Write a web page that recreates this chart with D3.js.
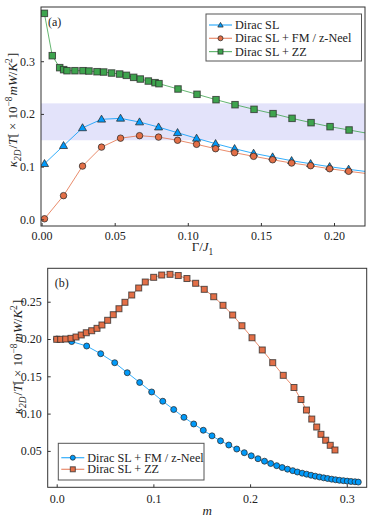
<!DOCTYPE html>
<html>
<head>
<meta charset="utf-8">
<script src="https://cdn.jsdelivr.net/npm/d3@7"></script>
<style>
  body { margin: 0; background: #fff; }
  svg text { font-family: "Liberation Serif", "DejaVu Serif", serif; }
</style>
</head>
<body>
<svg id="fig" width="374" height="522"></svg>
<script>
// ---- panel (a) data: kappa/T vs Gamma/J1 ----
var gammaX = [0.002, 0.015, 0.028, 0.041, 0.054, 0.067, 0.080, 0.093, 0.106, 0.119,
              0.132, 0.145, 0.158, 0.171, 0.184, 0.197, 0.210, 0.223];
var diracSL = [0.1055, 0.1397, 0.1735, 0.1898, 0.1916, 0.1846, 0.1750, 0.1643, 0.1537,
               0.1435, 0.1340, 0.1252, 0.1182, 0.1112, 0.1055, 0.0998, 0.0949, 0.0903];
var diracFM = [0.0010, 0.0449, 0.1010, 0.1370, 0.1540, 0.1587, 0.1560, 0.1500, 0.1423,
               0.1340, 0.1264, 0.1195, 0.1130, 0.1068, 0.1017, 0.0960, 0.0911, 0.0866];
var zzGammaX = [0.0019, 0.0073, 0.0124, 0.0151, 0.0174, 0.0228, 0.0283, 0.0324, 0.0379,
                0.0425, 0.0479, 0.0534, 0.0580, 0.0630, 0.0675, 0.0730, 0.0776, 0.0803,
                0.0933, 0.1063, 0.1193, 0.1323, 0.1453, 0.1583, 0.1713, 0.1843, 0.1973,
                0.2103, 0.2233];
var diracZZ = [0.3909, 0.3105, 0.2878, 0.2840, 0.2820, 0.2820, 0.2820, 0.2814, 0.2801,
               0.2795, 0.2776, 0.2757, 0.2732, 0.2694, 0.2662, 0.2624, 0.2593, 0.2574,
               0.2473, 0.2372, 0.2270, 0.2175, 0.2087, 0.2005, 0.1916, 0.1834, 0.1758,
               0.1695, 0.1630];
var band = [0.15, 0.22];

// ---- panel (b) data: kappa/T vs m ----
var fmM = [0.0000, 0.0155, 0.0310, 0.0455, 0.0600, 0.0730, 0.0858, 0.0982, 0.1097, 0.1210,
           0.1316, 0.1417, 0.1516, 0.1606, 0.1694, 0.1780, 0.1862, 0.1940, 0.2012, 0.2082,
           0.2149, 0.2213, 0.2275, 0.2332, 0.2387, 0.2441, 0.2489, 0.2539, 0.2585, 0.2630,
           0.2674, 0.2718, 0.2761, 0.2802, 0.2844, 0.2884, 0.2924, 0.2965, 0.3005, 0.3044,
           0.3085, 0.3119];
var fmK = [0.2000, 0.1966, 0.1906, 0.1803, 0.1682, 0.1548, 0.1417, 0.1290, 0.1166, 0.1055,
           0.0950, 0.0861, 0.0777, 0.0702, 0.0635, 0.0579, 0.0525, 0.0476, 0.0434, 0.0395,
           0.0362, 0.0331, 0.0302, 0.0277, 0.0255, 0.0235, 0.0217, 0.0201, 0.0188, 0.0174,
           0.0161, 0.0150, 0.0139, 0.0130, 0.0121, 0.0113, 0.0106, 0.0101, 0.0095, 0.0090,
           0.0086, 0.0082];
var zzM = [0.0000, 0.0041, 0.0093, 0.0148, 0.0200, 0.0254, 0.0306, 0.0362, 0.0417, 0.0468,
           0.0527, 0.0585, 0.0644, 0.0706, 0.0776, 0.0848, 0.0916, 0.1003, 0.1086, 0.1172,
           0.1257, 0.1347, 0.1437, 0.1526, 0.1624, 0.1720, 0.1820, 0.1916, 0.2020, 0.2126,
           0.2234, 0.2343, 0.2454, 0.2526, 0.2583, 0.2638, 0.2689, 0.2733, 0.2782, 0.2829,
           0.2878];
var zzK = [0.1996, 0.1996, 0.2000, 0.2009, 0.2027, 0.2054, 0.2084, 0.2111, 0.2143, 0.2188,
           0.2251, 0.2326, 0.2406, 0.2492, 0.2590, 0.2684, 0.2764, 0.2827, 0.2858, 0.2867,
           0.2851, 0.2811, 0.2747, 0.2666, 0.2567, 0.2452, 0.2322, 0.2178, 0.2017, 0.1853,
           0.1683, 0.1513, 0.1350, 0.1189, 0.1048, 0.0927, 0.0820, 0.0722, 0.0643, 0.0575,
           0.0512];

var xTicksA = [0, 0.05, 0.10, 0.15, 0.20];
var yTicksA = [0.0, 0.1, 0.2, 0.3];
var xTicksB = [0.0, 0.1, 0.2, 0.3];
var yTicksB = [0.05, 0.10, 0.15, 0.20, 0.25];

var legendA = ["Dirac SL", "Dirac SL + FM / z-Neel", "Dirac SL + ZZ"];
var legendB = ["Dirac SL + FM / z-Neel", "Dirac SL + ZZ"];

var BLUE = "#009AFA", ORANGE = "#E36F47", GREEN = "#3EA44E";
var FRAME = "#333";

var svg = d3.select("svg#fig");

function zip(xs, ys) {
    return xs.map(function(x, i) { return { x: x, y: ys[i] }; });
}

// text made of upright / italic / sub / sup parts
function richText(sel, parts, size) {
    parts.forEach(function(p) {
        var t = sel.append("tspan").text(p.t);
        if (p.i) t.style("font-style", "italic");
        if (p.s == "sub") {
            t.attr("dy", size * 0.3).style("font-size", size * 0.72 + "px");
            sel.append("tspan").attr("dy", -size * 0.3).text("\u200A");
        } else if (p.s == "sup") {
            t.attr("dy", -size * 0.4).style("font-size", size * 0.72 + "px");
            sel.append("tspan").attr("dy", size * 0.4).text("\u200A");
        }
    });
}

var yLabelParts = [
    { t: "\u03BA", i: true }, { t: "2D", i: true, s: "sub" },
    { t: "/" }, { t: "T", i: true }, { t: "[ \u00D7 10" }, { t: "\u22128", s: "sup" },
    { t: "m", i: true }, { t: "W", i: true }, { t: "/" }, { t: "K", i: true },
    { t: "2", s: "sup" }, { t: "]" }
];

function drawMarker(g, kind, x, y, fill, size) {
    var m;
    if (kind == "circle") {
        m = g.append("circle").attr("cx", x).attr("cy", y).attr("r", size / 2);
    } else if (kind == "square") {
        m = g.append("rect").attr("x", x - size / 2).attr("y", y - size / 2)
            .attr("width", size).attr("height", size);
    } else {
        m = g.append("path")
            .attr("d", d3.symbol().type(d3.symbolTriangle).size(size * size * 0.5)())
            .attr("transform", "translate(" + x + "," + (y + 0.5) + ")");
    }
    m.attr("fill", fill).attr("stroke", "#2a2a2a").attr("stroke-opacity", 0.75)
        .attr("stroke-width", 1);
}

function drawPanel(cfg) {
    var box = cfg.box;
    var w = box.right - box.left, h = box.bottom - box.top;
    var x = d3.scaleLinear().domain(cfg.xDomain).range([0, w]);
    var y = d3.scaleLinear().domain(cfg.yDomain).range([h, 0]);

    var plot = svg.append("g").attr("transform", "translate(" + box.left + "," + box.top + ")");

    svg.append("clipPath").attr("id", cfg.id + "-clip")
        .append("rect").attr("width", w).attr("height", h);

    var inner = plot.append("g").attr("clip-path", "url(#" + cfg.id + "-clip)");

    if (cfg.band) {
        inner.append("rect")
            .attr("x", 0).attr("width", w)
            .attr("y", y(cfg.band[1])).attr("height", y(cfg.band[0]) - y(cfg.band[1]))
            .attr("fill", "#e3e3fa");
    }

    var line = d3.line().x(function(d) { return x(d.x); }).y(function(d) { return y(d.y); });

    cfg.series.forEach(function(s) {
        inner.append("path")
            .attr("d", line(s.data))
            .attr("fill", "none")
            .attr("stroke", s.color)
            .attr("stroke-opacity", 0.8)
            .attr("stroke-width", 1);
        var mg = inner.append("g");
        s.data.forEach(function(d) {
            if (d.x <= cfg.xDomain[1]) drawMarker(mg, s.marker, x(d.x), y(d.y), s.color, s.size);
        });
    });

    // axes with inward ticks
    var xAxis = d3.axisBottom(x).tickValues(cfg.xTicks).tickFormat(d3.format(cfg.xFmt))
        .tickSizeInner(-3).tickSizeOuter(0).tickPadding(cfg.xPad);
    var yAxis = d3.axisLeft(y).tickValues(cfg.yTicks).tickFormat(d3.format(cfg.yFmt))
        .tickSizeInner(-3).tickSizeOuter(0).tickPadding(cfg.yPad);

    var xg = plot.append("g").attr("transform", "translate(0," + h + ")").call(xAxis);
    var yg = plot.append("g").call(yAxis);
    [xg, yg].forEach(function(g) {
        g.attr("font-size", 12);
        g.select(".domain").remove();
        g.selectAll("line").attr("stroke", FRAME);
        g.selectAll("text").attr("fill", "#222");
    });

    plot.append("rect").attr("width", w).attr("height", h)
        .attr("fill", "none").attr("stroke", FRAME).attr("stroke-width", 1);

    plot.append("text").attr("x", 7).attr("y", 19)
        .attr("font-size", 12).attr("fill", "#222").text(cfg.tag);

    // legend
    var lg = cfg.legend;
    var leg = svg.append("g");
    leg.append("rect").attr("x", lg.x).attr("y", lg.y).attr("width", lg.w).attr("height", lg.h)
        .attr("fill", "#fff").attr("stroke", "#555").attr("stroke-width", 1);
    lg.labels.forEach(function(lbl, i) {
        var s = cfg.series[lg.order[i]];
        var ly = lg.y + lg.first + i * lg.step;
        leg.append("line").attr("x1", lg.x + 3).attr("x2", lg.x + 26)
            .attr("y1", ly).attr("y2", ly)
            .attr("stroke", s.color).attr("stroke-opacity", 0.8).attr("stroke-width", 1.2);
        drawMarker(leg, s.marker, lg.x + 14.5, ly, s.color, 5);
        leg.append("text").attr("x", lg.x + 29).attr("y", ly).attr("dy", "0.32em")
            .attr("font-size", 12.2).attr("fill", "#222").text(lbl);
    });

    // axis titles
    var xt = svg.append("text")
        .attr("x", box.left + w / 2).attr("y", cfg.xTitleY)
        .attr("text-anchor", "middle").attr("font-size", 13).attr("fill", "#222");
    richText(xt, cfg.xTitle, 13);

    var yt = svg.append("text")
        .attr("transform", "translate(" + cfg.yTitleX + "," + cfg.yTitleMid + ") rotate(-90)")
        .attr("text-anchor", "middle").attr("font-size", 13).attr("fill", "#222");
    richText(yt, yLabelParts, 13);
}

drawPanel({
    id: "pa", tag: "(a)",
    box: { left: 41, right: 365, top: 7, bottom: 226 },
    xDomain: [-0.0004, 0.2212], yDomain: [-0.0127, 0.4029],
    xTicks: xTicksA, yTicks: yTicksA, xFmt: ".2f", yFmt: ".1f", xPad: 5.5, yPad: 6,
    band: band,
    series: [
        { data: zip(gammaX, diracSL), color: BLUE, marker: "triangle", size: 7.5 },
        { data: zip(gammaX, diracFM), color: ORANGE, marker: "circle", size: 6.5 },
        { data: zip(zzGammaX, diracZZ), color: GREEN, marker: "square", size: 6.5 }
    ],
    legend: { x: 206, y: 14, w: 155.5, h: 47, first: 11, step: 13.3,
              labels: legendA, order: [0, 1, 2] },
    xTitle: [{ t: "\u0393/" }, { t: "J", i: true }, { t: "1", s: "sub" }],
    xTitleY: 251, yTitleX: 17, yTitleMid: 110
});

drawPanel({
    id: "pb", tag: "(b)",
    box: { left: 47.7, right: 366.7, top: 268.3, bottom: 487.3 },
    xDomain: [-0.0093, 0.3206], yDomain: [0.0012, 0.2948],
    xTicks: xTicksB, yTicks: yTicksB, xFmt: ".1f", yFmt: ".2f", xPad: 6.8, yPad: 6,
    band: null,
    series: [
        { data: zip(fmM, fmK), color: BLUE, marker: "circle", size: 6 },
        { data: zip(zzM, zzK), color: ORANGE, marker: "square", size: 6 }
    ],
    legend: { x: 58.3, y: 443.3, w: 145.7, h: 36.7, first: 14.4, step: 11.6,
              labels: legendB, order: [0, 1] },
    xTitle: [{ t: "m", i: true }],
    xTitleY: 515, yTitleX: 22, yTitleMid: 357
});
</script>
</body>
</html>
